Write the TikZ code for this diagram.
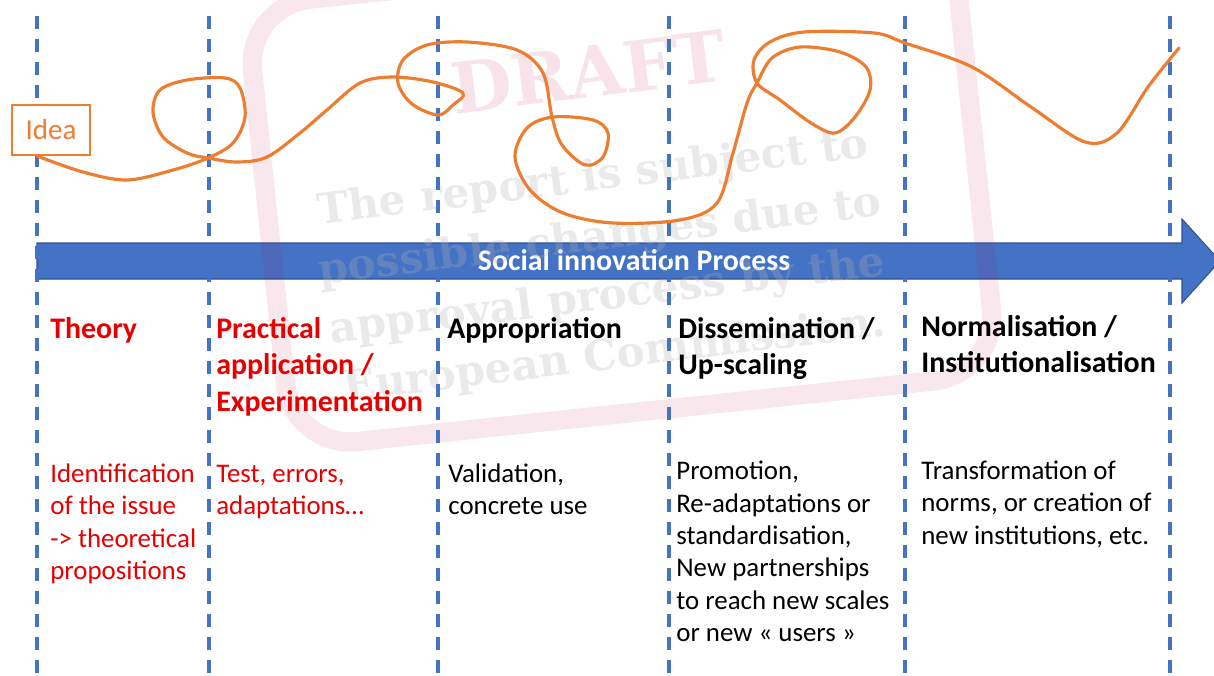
\documentclass[tikz,border=0pt]{standalone}
\usepackage{fontspec}
\setmainfont{Carlito}
\newfontfamily\stampfont{DejaVu Serif}
\usepackage{tikz}
\usetikzlibrary{calc}
\definecolor{procblue}{HTML}{4472C4}
\definecolor{procedge}{HTML}{2F528F}
\definecolor{ideaorange}{HTML}{ED7D31}
\definecolor{stagered}{HTML}{E60000}
\definecolor{stamppink}{HTML}{C2185B}
\tikzset{
  phaseline/.style={procblue,line width=1.9pt,dash pattern=on 7.4pt off 5.7pt},
  stagehead/.style={anchor=base west,align=left,inner sep=0pt,font=\fontsize{17}{20.7}\selectfont\bfseries},
  stagetext/.style={anchor=base west,align=left,inner sep=0pt,font=\fontsize{15.3}{18.4}\selectfont},
  pathcurve/.style={ideaorange,line width=1.8pt,line cap=round,line join=round},
}

\begin{document}
\begin{tikzpicture}[x=0.02cm,y=-0.02cm]
\useasboundingbox (0,0) rectangle (1214,676);
% process arrow
\filldraw[fill=procblue,draw=procedge,line width=0.6pt] (37,243) -- (1182,243) -- (1182,219) -- (1220,261)
   -- (1182,303) -- (1182,279) -- (37,279) -- cycle;
\node[text=white,font=\fontsize{17}{19}\selectfont\bfseries,anchor=base] (proc) at (634,270) {Social innovation Process};

% watermark
\node[draw=stamppink,draw opacity=0.1,line width=11pt,rounded corners=1.3cm,rotate=6,
      minimum width=14.2cm,minimum height=8.9cm] (stamp) at (622,190) {};
\node[text=stamppink,text opacity=0.12,rotate=7,font=\stampfont\bfseries\fontsize{40}{40}\selectfont] (draft) at (588,72) {DRAFT};
\node[text=gray!60,text opacity=0.28,rotate=7,align=center,
      font=\stampfont\bfseries\fontsize{24}{34}\selectfont] (notice) at (604,268)
   {The report is subject to\\possible changes due to\\approval process by the\\European Commission.};

% phase separators
\foreach \px in {37,209,438,669,905,1170}
  \draw[phaseline] (\px,16) -- (\px,676);

% idea
\node[draw=ideaorange,line width=0.7pt,fill=white,text=ideaorange,font=\fontsize{16.5}{19}\selectfont,
      minimum width=1.56cm,minimum height=1cm,inner sep=0pt] (idea) at (51,130) {Idea};
\draw[pathcurve] plot[smooth,tension=0.55] coordinates {
  (37,156) (83,172) (127,180) (173,170) (208,158) (233,143) (245,117) (240,88) (225,78)
  (187,80) (160,90) (153,112) (163,137) (187,153) (208,158) (237,162) (267,157) (300,133)
  (327,110) (360,83) (393,77) (433,82) (463,93) (453,105) (438,115) (412,104) (398,83)
  (403,60) (427,45) (467,42) (517,50) (543,73) (552,117) (562,145) (585,165) (603,157)
  (608,133) (593,120) (553,117) (527,128) (515,157) (530,190) (563,213) (613,223) (680,220)
  (717,203) (733,153) (747,103) (757,83) (772,58) (800,47) (840,52) (866,67) (870,90)
  (855,117) (835,133) (811,123) (780,100) (757,83) (754,60) (770,42) (804,32) (874,33)
  (905,43) (972,67) (1031,107) (1085,142) (1117,133) (1148,87) (1179,48)};

% stage titles (anchored on their last line)
\node[stagehead,text=stagered] (theory) at (50,338) {Theory};
\node[stagehead,text=stagered] (practice) at (216,411) {Practical\\application /\\Experimentation};
\node[stagehead] (appro) at (447,338) {Appropriation};
\node[stagehead] (dissem) at (678,374.5) {Dissemination /\\Up-scaling};
\node[stagehead] (normal) at (921,372.5) {Normalisation /\\Institutionalisation};

% stage contents
\node[stagetext,text=stagered] (theorytxt) at (50,579.5) {Identification\\of the issue\\-> theoretical\\propositions};
\node[stagetext,text=stagered] (practicetxt) at (216,514.5) {Test, errors,\\adaptations…};
\node[stagetext] (approtxt) at (448,514.5) {Validation,\\concrete use};
\node[stagetext] (dissemtxt) at (676,641.5) {Promotion,\\Re-adaptations or\\standardisation,\\New partnerships\\to reach new scales\\or new « users »};
\node[stagetext] (normaltxt) at (921,544) {Transformation of\\norms, or creation of\\new institutions, etc.};
\end{tikzpicture}
\end{document}
